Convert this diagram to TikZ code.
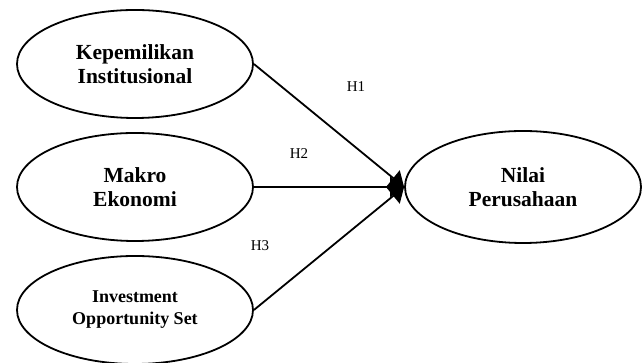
\documentclass[tikz,border=0pt]{standalone}
\usepackage{fontspec}
\setmainfont{Liberation Serif}
\usetikzlibrary{shapes.geometric,arrows.meta}
\begin{document}
\begin{tikzpicture}[x=1pt,y=1pt,
	var/.style={draw,ellipse,line width=1.8pt,minimum width=236pt,minimum height=108pt,inner sep=0pt,align=center,font=\bfseries\fontsize{21.5}{24}\selectfont},
	hyp/.style={font=\fontsize{15}{17}\selectfont},
	path/.style={line width=1.8pt,-{Triangle[length=14pt,width=20pt]}}]
\useasboundingbox (0,0) rectangle (643,363);
\node[var] (kep) at (135,299) {Kepemilikan\\Institusional};
\node[var] (mak) at (135,176) {Makro\\Ekonomi};
\node[var,font=\bfseries\fontsize{18}{22}\selectfont] (ios) at (135,53) {Investment\\Opportunity Set};
\node[var,minimum height=112pt] (nilai) at (523,176) {Nilai\\Perusahaan};
\draw[path] (kep.east) -- (nilai.west);
\draw[path] (mak.east) -- (nilai.west);
\draw[path] (ios.east) -- (nilai.west);
\node[hyp] (h1) at (356,276) {H1};
\node[hyp] (h2) at (299,209) {H2};
\node[hyp] (h3) at (260,117) {H3};
\end{tikzpicture}
\end{document}
